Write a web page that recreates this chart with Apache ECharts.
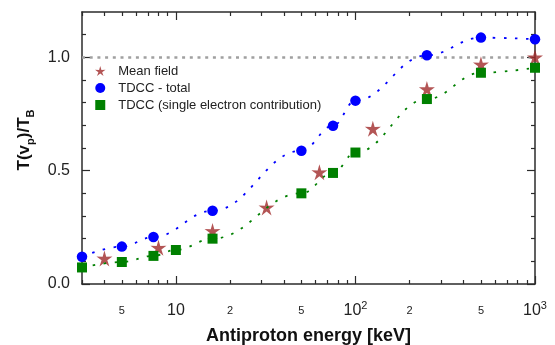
<!DOCTYPE html>
<html>
<head>
<meta charset="utf-8">
<script src="https://cdn.jsdelivr.net/npm/echarts@6/dist/echarts.min.js"></script>
<style>
  html, body { margin: 0; padding: 0; background: #fff; }
  #chart { width: 555px; height: 345px; }
</style>
</head>
<body>
<div id="chart"></div>
<script>
// antiproton energy in keV, ratio T(vp)/TB
const meanFieldE = [4, 8, 16, 32, 63, 125, 250, 500, 1000]
const meanFieldT = [0.113, 0.16, 0.234, 0.338, 0.493, 0.685, 0.86, 0.969, 1.0]
const totalE = [3, 5, 7.5, 16, 50, 75, 100, 250, 500, 1000]
const totalT = [0.12, 0.165, 0.207, 0.323, 0.588, 0.698, 0.809, 1.009, 1.087, 1.08]
const singleE = [3, 5, 7.5, 10, 16, 50, 75, 100, 250, 500, 1000]
const singleT = [0.073, 0.097, 0.124, 0.15, 0.2, 0.4, 0.49, 0.58, 0.816, 0.932, 0.954]

// ticks
const xLabelValues = [5, 10, 20, 50, 100, 200, 500, 1000]
const xMajorTicks = [10, 100, 1000]
const xMinorTicks = [3, 4, 5, 6, 7, 8, 9, 20, 30, 40, 50, 60, 70, 80, 90, 200, 300, 400, 500, 600, 700, 800, 900]
const yLabelValues = [0, 0.5, 1.0]
const yMinorTicks = [0.1, 0.2, 0.3, 0.4, 0.6, 0.7, 0.8, 0.9, 1.1]
const refLevel = 1.0

const font = 'Liberation Sans, Arial, Helvetica, sans-serif'
const axisColor = '#2b2b2b'
const starPath = 'path://M0,-10L2.12,-2.91L9.51,-3.09L3.42,1.11L5.88,8.09L0,3.6L-5.88,8.09L-3.42,1.11L-9.51,-3.09L-2.12,-2.91Z'
const squarePath = 'path://M0,0H10V10H0Z'

const pairs = (xs, ys) => xs.map((x, i) => [x, ys[i]])

const xAxisDef = (position, ticks, len, withLabels, withLine) => ({
  type: 'log',
  logBase: 10,
  min: 3,
  max: 1000,
  position,
  axisLine: { show: withLine, onZero: false, lineStyle: { color: axisColor, width: 1.5 } },
  axisTick: { show: true, inside: true, length: len, customValues: ticks, lineStyle: { color: axisColor, width: 1.2 } },
  axisLabel: withLabels ? {
    show: true,
    customValues: xLabelValues,
    margin: 15,
    color: '#222',
    fontFamily: font,
    formatter: v => {
      const e = Math.floor(Math.log10(v) + 1e-9)
      const m = Math.round(v / Math.pow(10, e))
      if (m === 1) return e === 1 ? '{b|10}' : '{b|10}{sup|' + e + '}'
      return '{s|' + m + '}'
    },
    rich: {
      b: { fontSize: 16, lineHeight: 16, padding: [7, 0, 0, 0], fontFamily: font, color: '#222' },
      sup: { fontSize: 11, lineHeight: 11, verticalAlign: 'top', padding: [1, 0, 11, 0], fontFamily: font, color: '#222' },
      s: { fontSize: 11, lineHeight: 11, padding: [13, 0, 0, 0], fontFamily: font, color: '#222' }
    }
  } : { show: false },
  splitLine: { show: false }
})

const yAxisDef = (position, ticks, len, withLabels, withLine) => ({
  type: 'value',
  min: 0,
  max: 1.2,
  position,
  axisLine: { show: withLine, onZero: false, lineStyle: { color: axisColor, width: 1.5 } },
  axisTick: { show: true, inside: true, length: len, customValues: ticks, lineStyle: { color: axisColor, width: 1.2 } },
  axisLabel: withLabels ? {
    show: true,
    customValues: yLabelValues,
    margin: 12,
    fontSize: 16,
    color: '#222',
    fontFamily: font,
    formatter: v => v.toFixed(1)
  } : { show: false },
  splitLine: { show: false }
})

const xAxes = [
  xAxisDef('bottom', xMinorTicks, 4, true, true),
  xAxisDef('bottom', xMajorTicks, 8, false, false),
  xAxisDef('top', xMinorTicks, 4, false, true),
  xAxisDef('top', xMajorTicks, 8, false, false)
]
Object.assign(xAxes[0], {
  name: 'Antiproton energy [keV]',
  nameLocation: 'middle',
  nameGap: 43,
  nameTextStyle: { fontSize: 18, fontWeight: 'bold', color: '#111', fontFamily: font }
})

const yAxes = [
  yAxisDef('left', yMinorTicks, 4, true, true),
  yAxisDef('left', yLabelValues, 8, false, false),
  yAxisDef('right', yMinorTicks, 4, false, true),
  yAxisDef('right', yLabelValues, 8, false, false)
]
Object.assign(yAxes[0], {
  name: '{t|T(v}{s|p}{t|)/T}{s|B}',
  nameLocation: 'middle',
  nameGap: 47,
  nameTextStyle: {
    padding: [0, 0, 0, 16],
    rich: {
      t: { fontSize: 17, lineHeight: 17, fontWeight: 'bold', color: '#111', fontFamily: font, verticalAlign: 'top', padding: [4, 0, 4, 0] },
      s: { fontSize: 11, lineHeight: 11, fontWeight: 'bold', color: '#111', fontFamily: font, verticalAlign: 'top', padding: [14, 0, 0, 0] }
    }
  }
})

const chart = echarts.init(document.getElementById('chart'))
chart.setOption({
  animation: false,
  backgroundColor: '#fff',
  grid: { left: 82, right: 20, top: 12, bottom: 61, outerBoundsMode: 'none' },
  legend: {
    orient: 'vertical',
    left: 95,
    top: 64,
    padding: 0,
    itemWidth: 26,
    itemHeight: 10,
    itemGap: 3,
    textStyle: { fontSize: 13, lineHeight: 14, color: '#222', fontFamily: font },
    data: [
      { name: 'Mean field', icon: starPath },
      { name: 'TDCC - total', icon: 'circle' },
      { name: 'TDCC (single electron contribution)', icon: squarePath }
    ]
  },
  xAxis: xAxes,
  yAxis: yAxes,
  series: [
    {
      name: 'Mean field',
      type: 'scatter',
      symbol: starPath,
      symbolSize: 16,
      itemStyle: { color: '#a02a2a' },
      data: pairs(meanFieldE, meanFieldT),
      markLine: {
        silent: true,
        symbol: 'none',
        label: { show: false },
        lineStyle: { color: '#a0a0a0', type: [3, 4.7], width: 2.5 },
        data: [{ yAxis: refLevel }],
        z: 1
      },
      z: 3
    },
    {
      name: 'TDCC - total',
      type: 'line',
      smooth: 0.4,
      smoothMonotone: 'x',
      symbol: 'circle',
      symbolSize: 10.5,
      itemStyle: { color: '#0000ff' },
      lineStyle: { color: '#0000ff', type: [2.5, 8.5], width: 1.8 },
      data: pairs(totalE, totalT),
      z: 4
    },
    {
      name: 'TDCC (single electron contribution)',
      type: 'line',
      smooth: 0.4,
      smoothMonotone: 'x',
      symbol: squarePath,
      symbolSize: 10,
      itemStyle: { color: '#008000' },
      lineStyle: { color: '#008000', type: [2.5, 8.5], width: 1.8 },
      data: pairs(singleE, singleT),
      z: 5
    }
  ]
})
</script>
</body>
</html>
